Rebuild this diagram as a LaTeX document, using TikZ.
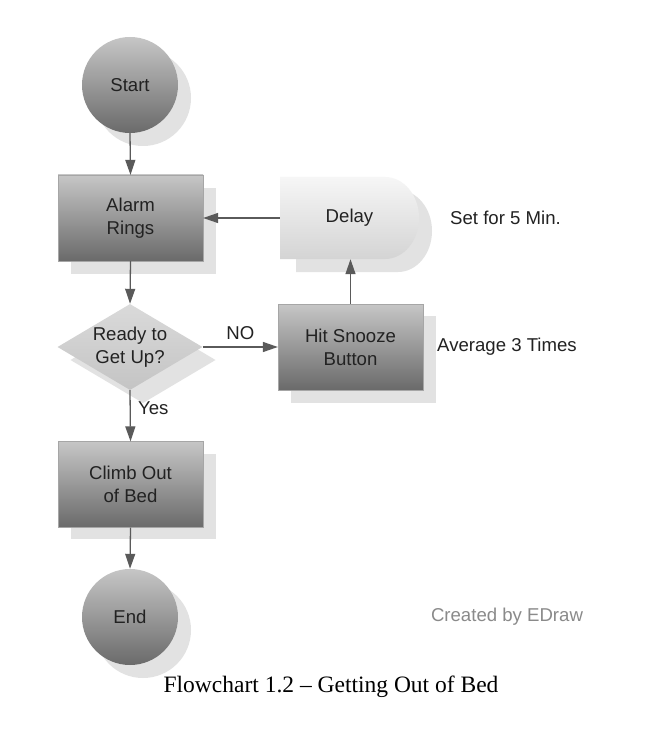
\documentclass[tikz,border=0pt]{standalone}
\usepackage{fontspec}
\setmainfont{Liberation Sans}
\newfontfamily\capfont{Liberation Serif}
\usetikzlibrary{shapes.geometric,arrows.meta}
\definecolor{shadowc}{HTML}{E2E2E2}
\definecolor{boxtop}{HTML}{C6C6C6}
\definecolor{boxbot}{HTML}{6A6A6A}
\definecolor{diatop}{HTML}{DADADA}
\definecolor{diabot}{HTML}{C4C4C4}
\definecolor{deltop}{HTML}{F6F6F6}
\definecolor{delbot}{HTML}{D4D4D4}
\definecolor{linec}{HTML}{5A5A5A}
\definecolor{txtc}{HTML}{222222}
\definecolor{edrawc}{HTML}{8A8A8A}
\tikzset{
  lbl/.style={font=\fontsize{18.6}{23}\selectfont, text=txtc, align=center},
  procbox/.style={rectangle, minimum width=145pt, minimum height=86pt, inner sep=0pt,
    top color=boxtop, bottom color=boxbot, draw=boxbot!60, line width=0.3pt},
  termcirc/.style={circle, minimum size=96pt, inner sep=0pt,
    top color=boxtop, bottom color=boxbot},
  decis/.style={diamond, minimum width=145pt, minimum height=86pt, inner sep=0pt,
    top color=diatop, bottom color=diabot},
  shad/.style={fill=shadowc, draw=none},
  flow/.style={draw=linec, line width=1.3pt, -{Triangle[length=15pt,width=10pt]}}
}
\begin{document}
\begin{tikzpicture}[x=1pt,y=-1pt]
\useasboundingbox[fill=white] (0,0) rectangle (653,738);
% shadows
\fill[shadowc] (143,98) circle (48);
\fill[shadowc] (71,188) rectangle (216,274);
\fill[shadowc] (296,190) -- (398,190) arc[start angle=-90,end angle=90,x radius=34,y radius=41] -- (296,272) -- cycle;
\fill[shadowc] (143,317) -- (215.5,360) -- (143,403) -- (70.5,360) -- cycle;
\fill[shadowc] (291,316) rectangle (436,403);
\fill[shadowc] (71,454) rectangle (216,539);
\fill[shadowc] (143,630) circle (48);
% delay shape
\path[top color=deltop, bottom color=delbot] (280,177) -- (385,177) arc[start angle=-90,end angle=90,x radius=34,y radius=41] -- (280,259) -- cycle;
% nodes
\node[termcirc, lbl] (start) at (130,85) {Start};
\node[procbox, lbl] (alarm) at (130.5,218) {Alarm\\Rings};
\node[lbl, minimum width=139pt, minimum height=82pt, inner sep=0pt] (delay) at (349.5,218) {Delay};
\node[decis] (ready) at (130,347) {};
\node[lbl] (readytxt) at (130,347) {Ready to\\Get Up?};
\node[procbox, lbl] (snooze) at (350.5,347) {Hit Snooze\\Button};
\node[procbox, lbl] (climb) at (130.5,484.5) {Climb Out\\of Bed};
\node[termcirc, lbl] (end) at (130,617) {End};
% side notes
\node[lbl, anchor=west, inner sep=0pt] (note1) at (450,218) {Set for 5 Min.};
\node[lbl, anchor=west, inner sep=0pt] (note2) at (437,347) {Average 3 Times};
\node[lbl, text=edrawc] (edraw) at (507,617) {Created by EDraw};
% connectors
\draw[flow] (start.south) -- (alarm.north);
\draw[flow] (delay.west) -- (alarm.east);
\draw[flow] (alarm.south) -- (ready.north);
\draw[flow] (ready.east) -- node[lbl, above=3pt] (nolbl) {NO} (snooze.west);
\draw[flow] (snooze.north) -- (snooze.north |- delay.south);
\draw[flow] (ready.south) -- node[lbl, pos=0.35, right=4pt] (yeslbl) {Yes} (climb.north);
\draw[flow] (climb.south) -- (end.north);
% caption
\node[font=\capfont\fontsize{23.5}{27}\selectfont, text=black] (caption) at (331,687) {Flowchart 1.2 – Getting Out of Bed};
\end{tikzpicture}
\end{document}
